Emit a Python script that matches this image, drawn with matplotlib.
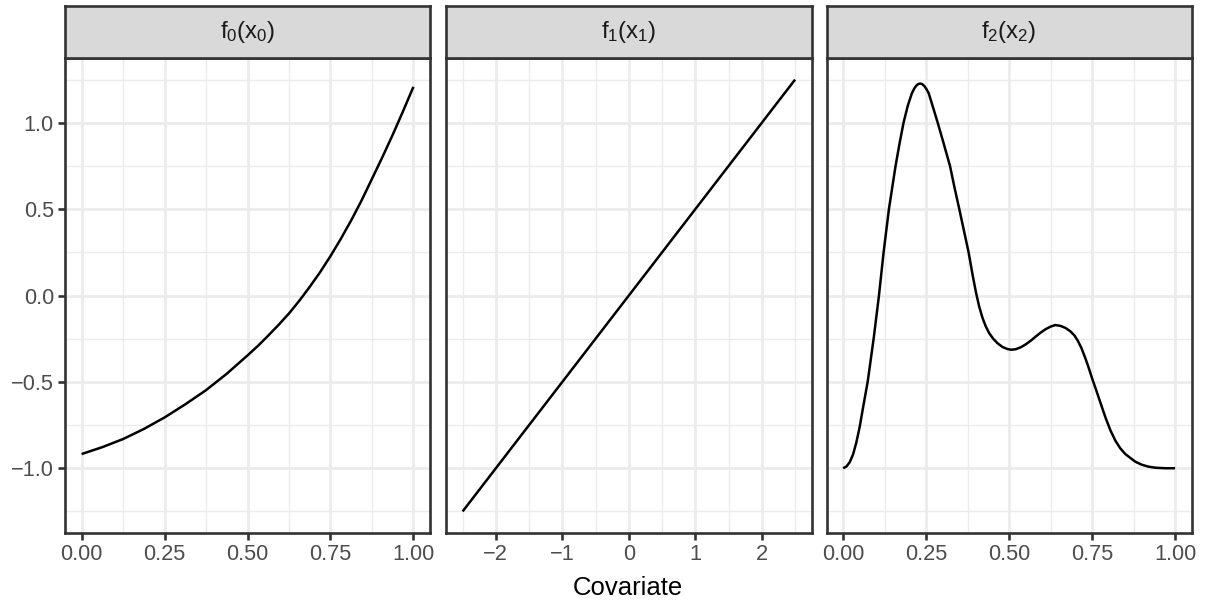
import matplotlib
matplotlib.use('Agg')
import matplotlib.pyplot as plt
import numpy as np

plt.rcParams['font.family'] = ['Liberation Sans', 'DejaVu Sans']
plt.rcParams['mathtext.fontset'] = 'custom'
plt.rcParams['mathtext.rm'] = 'Liberation Sans'
plt.rcParams['mathtext.it'] = 'Liberation Sans:italic'

# facet titles
titles = [r'$\mathregular{f_0(x_0)}$', r'$\mathregular{f_1(x_1)}$', r'$\mathregular{f_2(x_2)}$']

# f0(x0)
x0 = [0.0, 0.0625, 0.125, 0.1875, 0.25, 0.3125, 0.375, 0.4375, 0.5,
      0.53125, 0.5625, 0.59375, 0.625, 0.65625, 0.6875, 0.71875, 0.75,
      0.78125, 0.8125, 0.84375, 0.875, 0.90625, 0.9375, 0.96875, 1.0]
y0 = [-0.918, -0.878, -0.831, -0.773, -0.706, -0.630, -0.548, -0.453, -0.347,
      -0.292, -0.232, -0.170, -0.104, -0.030, 0.050, 0.135, 0.228,
      0.328, 0.435, 0.550, 0.675, 0.800, 0.930, 1.067, 1.208]

# f1(x1)
x1 = [-2.5, -1.25, 0.0, 1.25, 2.5]
y1 = [-1.25, -0.625, 0.0, 0.625, 1.25]

# f2(x2)
x2 = [0.0, 0.010, 0.020, 0.030, 0.040, 0.050, 0.060, 0.074, 0.083, 0.092,
      0.100, 0.108, 0.115, 0.122, 0.130, 0.138, 0.148, 0.158, 0.170, 0.182,
      0.195, 0.207, 0.214, 0.220, 0.226, 0.232, 0.238, 0.245, 0.252, 0.258,
      0.270, 0.285, 0.300, 0.322,
      0.335, 0.350, 0.364, 0.378, 0.390, 0.400, 0.410, 0.420, 0.430, 0.440,
      0.452, 0.465, 0.480, 0.495, 0.507, 0.520, 0.535, 0.550, 0.565, 0.580,
      0.595, 0.610, 0.625, 0.639, 0.655, 0.670, 0.685, 0.697, 0.707, 0.718,
      0.730, 0.740, 0.750, 0.760, 0.775, 0.790, 0.805, 0.820, 0.835, 0.850,
      0.865, 0.880, 0.900, 0.920, 0.940, 0.970, 1.0]
y2 = [-1.000, -0.990, -0.965, -0.920, -0.850, -0.760, -0.650, -0.500, -0.375, -0.250,
      -0.125, 0.000, 0.125, 0.250, 0.375, 0.500, 0.625, 0.750, 0.880, 1.000,
      1.100, 1.170, 1.197, 1.214, 1.224, 1.227, 1.224, 1.212, 1.192, 1.170,
      1.095, 1.000, 0.900, 0.750,
      0.630, 0.500, 0.375, 0.250, 0.120, 0.020, -0.065, -0.130, -0.180, -0.218,
      -0.250, -0.276, -0.298, -0.310, -0.314, -0.311, -0.300, -0.283, -0.262, -0.238,
      -0.215, -0.195, -0.180, -0.171, -0.176, -0.188, -0.208, -0.232, -0.262, -0.305,
      -0.365, -0.420, -0.480, -0.535, -0.620, -0.705, -0.780, -0.840, -0.885, -0.918,
      -0.940, -0.962, -0.980, -0.991, -0.997, -1.000, -1.000]

xs = [x0, x1, x2]
ys = [y0, y1, y2]

xticks = [[0.0, 0.25, 0.5, 0.75, 1.0], [-2, -1, 0, 1, 2], [0.0, 0.25, 0.5, 0.75, 1.0]]
xticklabels = [['0.00', '0.25', '0.50', '0.75', '1.00'],
               ['\u22122', '\u22121', '0', '1', '2'],
               ['0.00', '0.25', '0.50', '0.75', '1.00']]
xminor = [[0.125, 0.375, 0.625, 0.875], [-2.5, -1.5, -0.5, 0.5, 1.5, 2.5],
          [0.125, 0.375, 0.625, 0.875]]
yticks = [-1.0, -0.5, 0.0, 0.5, 1.0]
yticklabels = ['\u22121.0', '\u22120.5', '0.0', '0.5', '1.0']
yminor = [-1.25, -0.75, -0.25, 0.25, 0.75, 1.25]

W, H = 1213, 600
panels = [(65, 430), (446, 811.7), (826.5, 1191.7)]
top, bottom, strip_top = 58, 533, 6
dark = '#333333'

fig = plt.figure(figsize=(W / 100, H / 100), dpi=100)

for i, (l, r) in enumerate(panels):
    ax = fig.add_axes([l / W, (H - bottom) / H, (r - l) / W, (bottom - top) / H])
    ax.plot(xs[i], ys[i], color='black', lw=1.8, solid_joinstyle='round',
            solid_capstyle='butt')
    lo, hi = min(xs[i]), max(xs[i])
    pad = (hi - lo) * 0.05
    ax.set_xlim(lo - pad, hi + pad)
    ax.set_ylim(-1.375, 1.375)
    ax.set_xticks(xticks[i])
    ax.set_xticklabels(xticklabels[i])
    ax.set_xticks(xminor[i], minor=True)
    ax.set_yticks(yticks)
    ax.set_yticks(yminor, minor=True)
    if i == 0:
        ax.set_yticklabels(yticklabels)
        ax.tick_params(axis='y', which='major', length=5, width=1.9, color=dark,
                       labelsize=15.7, labelcolor='#4D4D4D', pad=3)
    else:
        ax.tick_params(axis='y', which='major', length=0, labelleft=False)
    ax.tick_params(axis='x', which='major', length=5, width=1.9, color=dark,
                   labelsize=15.7, labelcolor='#4D4D4D', pad=3)
    ax.tick_params(which='minor', length=0)
    ax.grid(which='major', color='#EBEBEB', lw=1.9)
    ax.grid(which='minor', color='#EBEBEB', lw=0.95)
    ax.set_axisbelow(True)
    for s in ax.spines.values():
        s.set_color(dark)
        s.set_linewidth(1.9)

    sax = fig.add_axes([l / W, (H - top) / H, (r - l) / W, (top - strip_top) / H])
    sax.set_facecolor('#D9D9D9')
    sax.set_xticks([])
    sax.set_yticks([])
    for s in sax.spines.values():
        s.set_color(dark)
        s.set_linewidth(1.9)
    sax.text(0.5, 0.5, titles[i], ha='center', va='center', fontsize=17.2,
             color='#1A1A1A', transform=sax.transAxes)

fig.text(627.5 / W, 1 - 595 / H, 'Covariate', ha='center', va='baseline',
         fontsize=18.5, color='black')

fig.savefig('out.png', dpi=100)
